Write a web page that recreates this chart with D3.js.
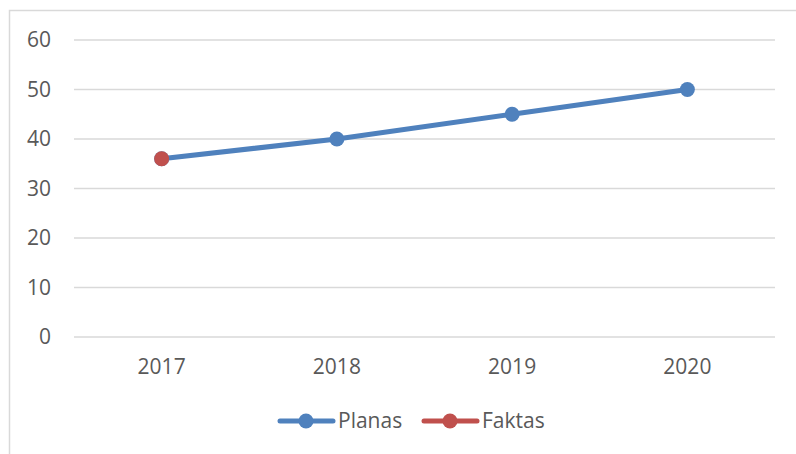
<!DOCTYPE html>
<html>
<head>
<meta charset="utf-8">
<script src="https://cdn.jsdelivr.net/npm/d3@7"></script>
<style>
  body { margin: 0; background: #fff; }
  text { font-family: "Open Sans", sans-serif; fill: #595959; }
</style>
</head>
<body>
<div class="chart"></div>
<script>
// chart data
var years = ["2017", "2018", "2019", "2020"];
var planas = [36, 40, 45, 50];
var faktas = [36, null, null, null];
var yTicks = [0, 10, 20, 30, 40, 50, 60];
var seriesNames = ["Planas", "Faktas"];
var seriesColors = ["#4F81BD", "#C0504D"];

var svgWidth = 796;
var svgHeight = 454;

var margin = { top: 40, bottom: 117, right: 21, left: 74 };
var width = svgWidth - margin.left - margin.right;
var height = svgHeight - margin.top - margin.bottom;

var svg = d3.select(".chart")
  .append("svg")
  .attr("width", svgWidth)
  .attr("height", svgHeight);

// outer chart border (runs off the right / bottom edge)
svg.append("rect")
  .attr("x", 9.5)
  .attr("y", 10.5)
  .attr("width", 800)
  .attr("height", 460)
  .attr("fill", "none")
  .attr("stroke", "#D9D9D9")
  .attr("stroke-width", 1.5);

var chartGroup = svg.append("g")
  .attr("transform", `translate(${margin.left}, ${margin.top})`);

var xScale = d3.scaleBand()
  .domain(years)
  .range([0, width]);

var yScale = d3.scaleLinear()
  .domain([0, 60])
  .range([height, 0]);

// gridlines
chartGroup.selectAll(".grid")
  .data(yTicks)
  .enter()
  .append("line")
  .attr("x1", 0)
  .attr("x2", width)
  .attr("y1", d => yScale(d))
  .attr("y2", d => yScale(d))
  .attr("stroke", "#D9D9D9")
  .attr("stroke-width", 1.5);

// y axis labels
var yAxis = d3.axisLeft(yScale).tickValues(yTicks).tickSize(0).tickPadding(23);
var yG = chartGroup.append("g").call(yAxis);
yG.select(".domain").remove();
yG.selectAll("text")
  .style("font-size", "21px")
  .attr("fill", "#595959");

// x axis labels
var xAxis = d3.axisBottom(xScale).tickSize(0).tickPadding(22);
var xG = chartGroup.append("g")
  .attr("transform", `translate(0, ${height})`)
  .call(xAxis);
xG.select(".domain").remove();
xG.selectAll("text")
  .style("font-size", "21px")
  .attr("fill", "#595959");

var cx = d => xScale(d) + xScale.bandwidth() / 2;

// Planas line
var line = d3.line()
  .defined(d => d.v !== null)
  .x(d => cx(d.year))
  .y(d => yScale(d.v));

var planasData = years.map((y, i) => ({ year: y, v: planas[i] }));
var faktasData = years.map((y, i) => ({ year: y, v: faktas[i] }));

chartGroup.append("path")
  .datum(planasData)
  .attr("d", line)
  .attr("fill", "none")
  .attr("stroke", seriesColors[0])
  .attr("stroke-width", 5)
  .attr("stroke-linecap", "round");

chartGroup.selectAll(".planas-dot")
  .data(planasData)
  .enter()
  .append("circle")
  .attr("cx", d => cx(d.year))
  .attr("cy", d => yScale(d.v))
  .attr("r", 7.5)
  .attr("fill", seriesColors[0]);

// Faktas (single point)
chartGroup.append("path")
  .datum(faktasData)
  .attr("d", line)
  .attr("fill", "none")
  .attr("stroke", seriesColors[1])
  .attr("stroke-width", 5);

chartGroup.selectAll(".faktas-dot")
  .data(faktasData.filter(d => d.v !== null))
  .enter()
  .append("circle")
  .attr("cx", d => cx(d.year))
  .attr("cy", d => yScale(d.v))
  .attr("r", 7.5)
  .attr("fill", seriesColors[1]);

// legend
var legendX = [278, 422];
var legend = svg.selectAll(".legend")
  .data(seriesNames)
  .enter()
  .append("g")
  .attr("transform", (d, i) => `translate(${legendX[i]}, 421)`);

legend.append("line")
  .attr("x1", 2)
  .attr("x2", 55)
  .attr("y1", 0)
  .attr("y2", 0)
  .attr("stroke", (d, i) => seriesColors[i])
  .attr("stroke-width", 5)
  .attr("stroke-linecap", "round");

legend.append("circle")
  .attr("cx", 28)
  .attr("cy", 0)
  .attr("r", 7.5)
  .attr("fill", (d, i) => seriesColors[i]);

legend.append("text")
  .attr("x", 60)
  .attr("y", 0)
  .attr("dy", "0.35em")
  .style("font-size", "21px")
  .text(d => d);
</script>
</body>
</html>
